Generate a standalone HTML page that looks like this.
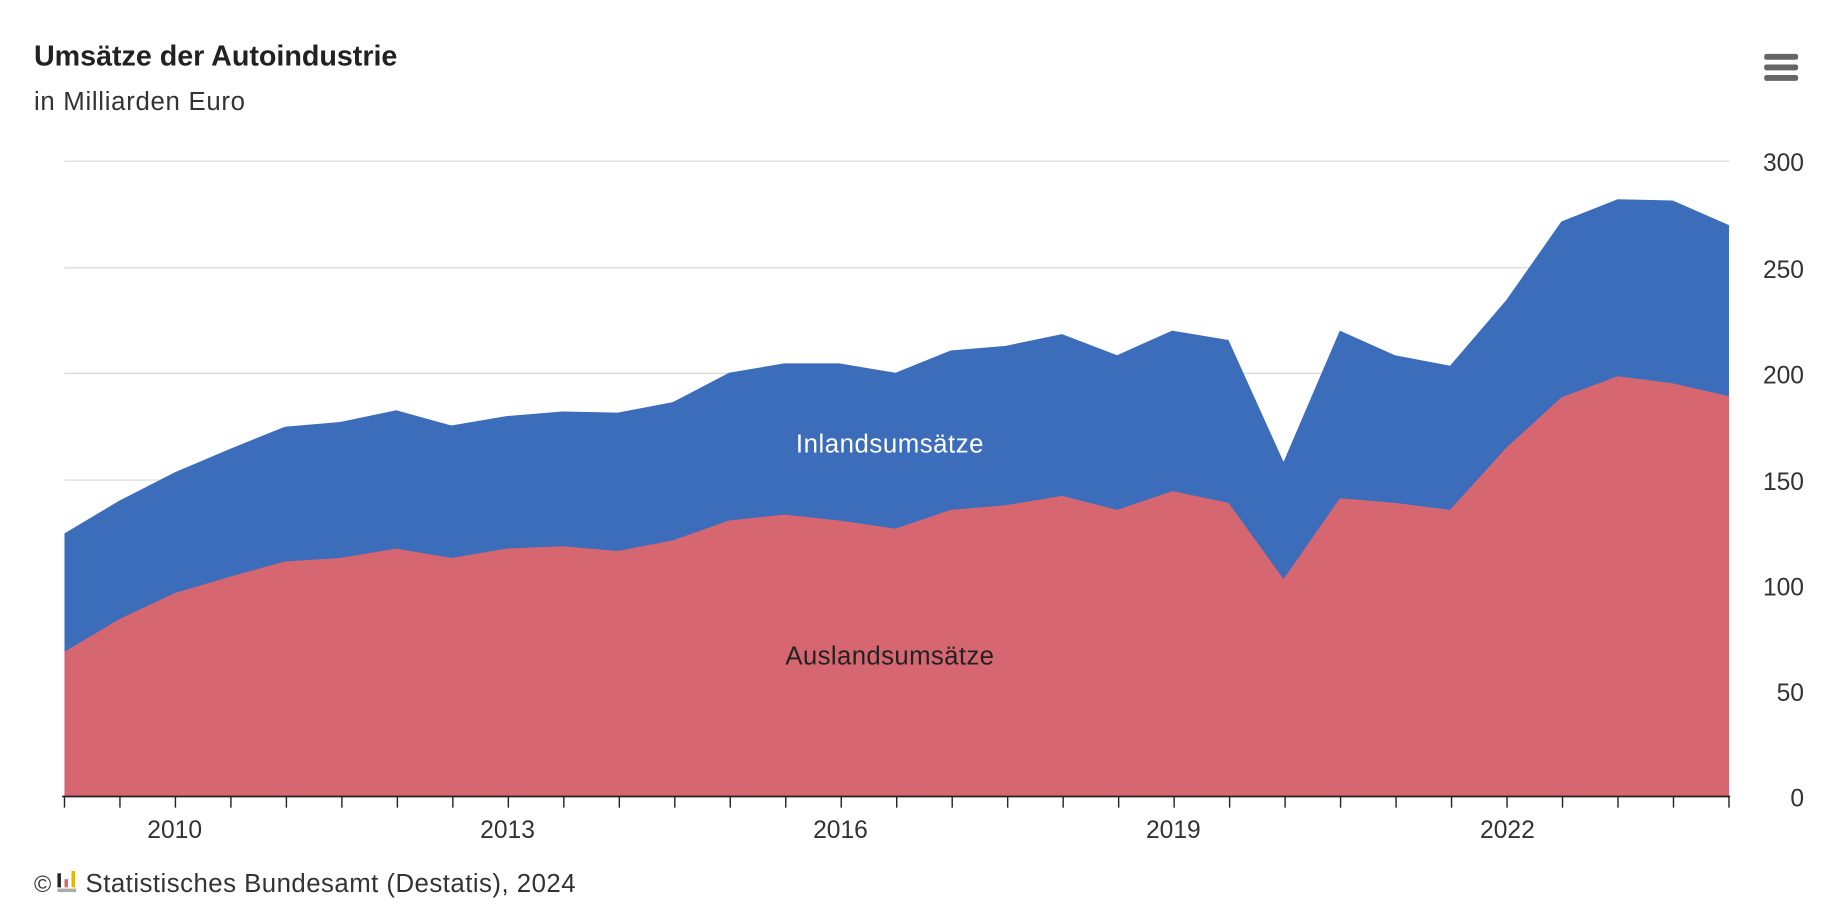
<!DOCTYPE html>
<html><head><meta charset="utf-8"><style>
html,body{margin:0;padding:0;background:#fff;width:1838px;height:916px;overflow:hidden}
svg{display:block}
text{font-family:"Liberation Sans",sans-serif}
</style></head><body>
<svg width="1838" height="916" viewBox="0 0 1568 781.4" preserveAspectRatio="none" xmlns="http://www.w3.org/2000/svg">
<rect width="1568" height="782" fill="#fff"/>
<text x="29" y="56" font-size="24.5" font-weight="bold" fill="#222" textLength="310">Umsätze der Autoindustrie</text>
<text x="29" y="94" font-size="22" fill="#333" textLength="180">in Milliarden Euro</text>
<g fill="#666"><rect x="1505" y="46" width="29" height="5" rx="2"/><rect x="1505" y="55" width="29" height="5" rx="2"/><rect x="1505" y="64" width="29" height="5" rx="2"/></g>
<g stroke="#d8d8d8" stroke-width="1"><line x1="55" x2="1475" y1="137.5" y2="137.5"/><line x1="55" x2="1475" y1="228.5" y2="228.5"/><line x1="55" x2="1475" y1="318.5" y2="318.5"/><line x1="55" x2="1475" y1="409.5" y2="409.5"/></g>
<polygon fill="#3c6dbb" points="55,679 55,455 102,427 149,403 196,383 243,364 290,360 338,350 385,363 432,355 480,351 527,352 574,343 622,318 669,310 716,310 764,318 811,299 858,295 906,285 953,303 1000,282 1048,290 1095,394 1143,282 1190,303 1237,312 1285,256 1332,189 1380,170 1427,171 1475,192 1475,679"/>
<polygon fill="#d66771" points="55,679 55,556 102,528 149,506 196,492 243,479 290,476 338,468 385,476 432,468 480,466 527,470 574,461 622,444 669,439 716,444 764,451 811,435 858,431 906,423 953,435 1000,419 1048,429 1095,494 1143,425 1190,429 1237,435 1285,382 1332,339 1380,321 1427,327 1475,338 1475,679"/>
<text x="759" y="386" font-size="22" fill="#fff" text-anchor="middle" textLength="160">Inlandsumsätze</text>
<text x="759" y="567" font-size="22" fill="#222" text-anchor="middle" textLength="178">Auslandsumsätze</text>
<line x1="53" x2="1476" y1="679.5" y2="679.5" stroke="#222" stroke-width="1.5"/>
<g stroke="#222" stroke-width="1.2" id="ticks"></g>
<g font-size="21" fill="#333" text-anchor="middle">
<text x="149" y="715">2010</text><text x="433" y="715">2013</text><text x="717" y="715">2016</text><text x="1001" y="715">2019</text><text x="1286" y="715">2022</text>
</g>
<g font-size="21" fill="#333" text-anchor="end">
<text x="1539" y="146">300</text><text x="1539" y="237">250</text><text x="1539" y="327">200</text><text x="1539" y="418">150</text><text x="1539" y="508">100</text><text x="1539" y="598">50</text><text x="1539" y="688">0</text>
</g>
<text x="29" y="761" font-size="20" fill="#333">©</text>
<rect x="49" y="745" width="3" height="12" fill="#222"/><rect x="55" y="750" width="3" height="7" fill="#d66771"/><rect x="61" y="743" width="3" height="14" fill="#e8b400"/><rect x="49" y="758" width="16" height="3" fill="#aaa"/>
<text x="73" y="761" font-size="22" fill="#333" textLength="418">Statistisches Bundesamt (Destatis), 2024</text>
</svg>
<script>
var g=document.getElementById('ticks');
for(var i=0;i<=30;i++){var x=55+i*47.333;var l=document.createElementNS('http://www.w3.org/2000/svg','line');l.setAttribute('x1',x);l.setAttribute('x2',x);l.setAttribute('y1',679);l.setAttribute('y2',689);g.appendChild(l);}
</script>
</body></html>
